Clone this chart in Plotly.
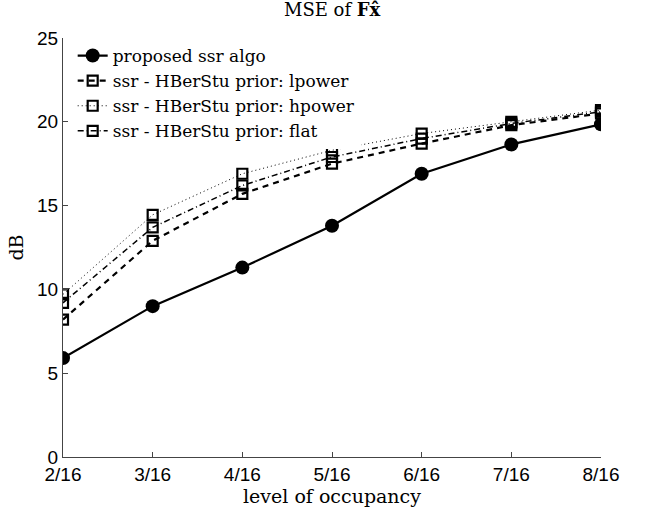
import plotly.graph_objects as go

# Data
occupancy = ["2/16", "3/16", "4/16", "5/16", "6/16", "7/16", "8/16"]
proposed = [5.9, 9.0, 11.3, 13.8, 16.9, 18.65, 19.85]
lpower = [8.2, 12.9, 15.7, 17.5, 18.7, 19.8, 20.5]
hpower = [9.7, 14.45, 16.9, 18.3, 19.3, 20.0, 20.7]
flat = [9.2, 13.7, 16.2, 17.9, 19.0, 19.9, 20.6]
y_ticks = [0, 5, 10, 15, 20, 25]

SERIF = "DejaVu Serif"
SANS = "Liberation Sans"

fig = go.Figure()
fig.add_trace(go.Scatter(
    x=occupancy, y=proposed, name="proposed ssr algo", mode="lines+markers",
    line=dict(color="black", width=2.2, dash="solid"),
    marker=dict(symbol="circle", size=14, color="black"),
))
fig.add_trace(go.Scatter(
    x=occupancy, y=lpower, name="ssr - HBerStu prior: lpower", mode="lines+markers",
    line=dict(color="black", width=2.2, dash="6px,5px"),
    marker=dict(symbol="square-open", size=10, color="black", line=dict(width=2.2)),
))
fig.add_trace(go.Scatter(
    x=occupancy, y=hpower, name="ssr - HBerStu prior: hpower", mode="lines+markers",
    line=dict(color="black", width=1, dash="1px,3px"),
    marker=dict(symbol="square-open", size=10, color="black", line=dict(width=2.2)),
))
fig.add_trace(go.Scatter(
    x=occupancy, y=flat, name="ssr - HBerStu prior: flat", mode="lines+markers",
    line=dict(color="black", width=1.5, dash="6px,3px,1px,3px"),
    marker=dict(symbol="square-open", size=10, color="black", line=dict(width=2.2)),
))

fig.update_layout(
    width=645, height=510,
    paper_bgcolor="white", plot_bgcolor="white",
    margin=dict(l=63, r=44, t=38, b=53),
    title=dict(text="MSE of <b>Fx\u0302</b>", x=0.515, xanchor="center", y=0.993, yanchor="top",
               font=dict(family=SERIF, size=18, color="black")),
    showlegend=True,
    legend=dict(x=0.018, y=1.0, xanchor="left", yanchor="top",
                bgcolor="rgba(255,255,255,1)", borderwidth=0,
                font=dict(family=SERIF, size=17, color="black"),
                tracegroupgap=0, itemwidth=30),
    xaxis=dict(
        type="category", range=[0, len(occupancy) - 1],
        showline=True, linecolor="#444", linewidth=1, mirror=False,
        ticks="inside", ticklen=5, tickcolor="#444",
        showgrid=False, zeroline=False,
        tickfont=dict(family=SANS, size=19, color="black"),
        title=dict(text="level of occupancy", font=dict(family=SERIF, size=19, color="black"), standoff=0),
    ),
    yaxis=dict(
        range=[0, 25], tickvals=y_ticks,
        showline=True, linecolor="#444", linewidth=1, mirror=False,
        ticks="inside", ticklen=5, tickcolor="#444",
        showgrid=False, zeroline=False,
        tickfont=dict(family=SANS, size=19, color="black"),
        title=dict(text="dB", font=dict(family=SERIF, size=19, color="black"), standoff=8),
    ),
)

fig.write_html("out.html")
